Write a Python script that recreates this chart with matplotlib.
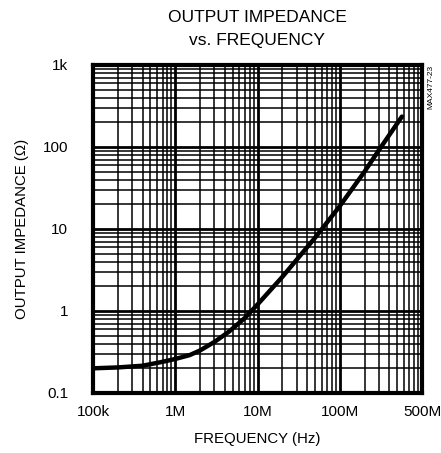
import matplotlib
matplotlib.use("Agg")
import matplotlib.pyplot as plt
import matplotlib.ticker as mticker

# Data
freq_hz = [1e5, 2e5, 4e5, 7e5, 1e6, 1.5e6, 2e6, 3e6, 4.5e6, 7e6, 1e7, 2e7, 5e7, 1e8, 2e8, 3e8, 4e8, 5.7e8]
impedance_ohm = [0.20, 0.205, 0.215, 0.24, 0.26, 0.29, 0.33, 0.42, 0.56, 0.82, 1.2, 2.6, 7.8, 19, 50, 92, 140, 235]

x_ticks = [1e5, 1e6, 1e7, 1e8, 1e9]
x_tick_labels = ["100k", "1M", "10M", "100M", "500M"]
y_ticks = [0.1, 1, 10, 100, 1000]
y_tick_labels = ["0.1", "1", "10", "100", "1k"]

font = "Liberation Sans"

fig = plt.figure(figsize=(4.41, 4.53), dpi=100)
ax = fig.add_axes([93/441, 60/453, 329/441, 328/453])

ax.set_xscale("log")
ax.set_yscale("log")
ax.set_xlim(1e5, 1e9)
ax.set_ylim(0.1, 1000)

ax.grid(True, which="major", color="black", linewidth=2.0)
ax.grid(True, which="minor", color="black", linewidth=1.1)
ax.set_axisbelow(True)

ax.plot(freq_hz, impedance_ohm, color="black", linewidth=3.2,
        solid_capstyle="round", solid_joinstyle="round")

ax.set_xticks(x_ticks)
ax.set_xticklabels(x_tick_labels, fontfamily=font, fontsize=11)
ax.set_yticks(y_ticks)
ax.set_yticklabels(y_tick_labels, fontfamily=font, fontsize=11)
ax.tick_params(which="both", length=0)
ax.tick_params(axis="x", pad=9)
ax.tick_params(axis="y", pad=18)
ax.xaxis.set_minor_formatter(mticker.NullFormatter())
ax.yaxis.set_minor_formatter(mticker.NullFormatter())

for s in ax.spines.values():
    s.set_linewidth(3.0)
    s.set_color("black")

ax.set_xlabel("FREQUENCY (Hz)", fontfamily=font, fontsize=10.8, labelpad=9)
ax.set_ylabel("OUTPUT IMPEDANCE (\u03a9)", fontfamily=font, fontsize=10.8, labelpad=10)

fig.text(257/441, 1 - 17/453, "OUTPUT IMPEDANCE", ha="center", va="center",
         fontfamily=font, fontsize=12.5)
fig.text(257/441, 1 - 40/453, "vs. FREQUENCY", ha="center", va="center",
         fontfamily=font, fontsize=12.5)
fig.text(431/441, 1 - 87/453, "MAX477-23", ha="center", va="center", rotation=90,
         fontfamily=font, fontsize=6)

fig.savefig("out.png", dpi=100)
